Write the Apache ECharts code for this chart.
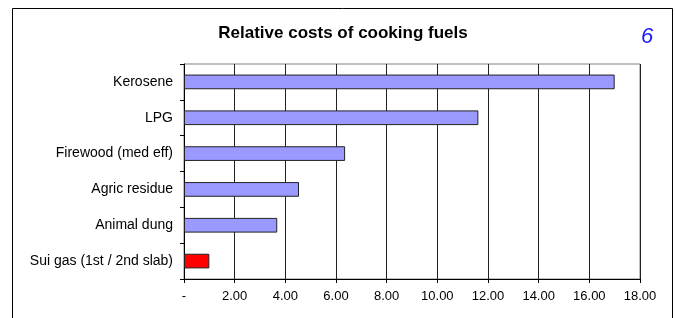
<!DOCTYPE html>
<html>
<head>
<meta charset="utf-8">
<script src="https://cdn.jsdelivr.net/npm/echarts@6/dist/echarts.min.js"></script>
<style>html,body{margin:0;padding:0;background:#fff}#c{width:675px;height:318px}</style>
</head>
<body>
<div id="c"></div>
<script>
const categories = ["Kerosene", "LPG", "Firewood (med eff)", "Agric residue", "Animal dung", "Sui gas (1st / 2nd slab)"];
const values = [17.0, 11.62, 6.36, 4.54, 3.68, 1.0];
const barColors = ["#9999ff", "#9999ff", "#9999ff", "#9999ff", "#9999ff", "#ff0000"];
const xTicks = [0, 2, 4, 6, 8, 10, 12, 14, 16, 18];

const chart = echarts.init(document.getElementById('c'), null, {renderer: 'canvas'});
const font = 'Liberation Sans, Arial, sans-serif';
chart.setOption({
  animation: false,
  backgroundColor: '#fff',
  graphic: [
    {type: 'rect', shape: {x: 12.5, y: 8.5, width: 660, height: 330}, style: {fill: 'none', stroke: '#000', lineWidth: 1}, z: 100},
    {type: 'text', x: 343, y: 33, style: {text: 'Relative costs of cooking fuels', font: 'bold 17px ' + font, fill: '#000', textAlign: 'center', textVerticalAlign: 'middle'}},
    {type: 'text', x: 647, y: 37, style: {text: '6', font: 'italic 22px ' + font, fill: '#1a1aff', textAlign: 'center', textVerticalAlign: 'middle'}}
  ],
  grid: {left: 184, right: 35, top: 64, bottom: 39, show: true, borderColor: '#808080', borderWidth: 1, containLabel: false},
  xAxis: {
    type: 'value', min: 0, max: 18, interval: 2,
    axisLine: {show: true, lineStyle: {color: '#000', width: 1}},
    axisTick: {show: true, length: 4, lineStyle: {color: '#000'}},
    splitLine: {show: true, lineStyle: {color: '#222', width: 1}},
    axisLabel: {color: '#000', fontFamily: font, fontSize: 13, margin: 11,
      formatter: function (v) { return v === 0 ? '-' : v.toFixed(2); },
      customValues: xTicks}
  },
  yAxis: {
    type: 'category', data: categories, inverse: true,
    axisLine: {show: true, lineStyle: {color: '#000', width: 1}},
    axisTick: {show: true, length: 4, lineStyle: {color: '#000'}},
    axisLabel: {color: '#000', fontFamily: font, fontSize: 14, margin: 11}
  },
  series: [{
    type: 'bar',
    data: values.map((v, i) => ({value: v, itemStyle: {color: barColors[i]}})),
    barWidth: '41%',
    itemStyle: {borderColor: '#222', borderWidth: 1}
  }]
});
</script>
</body>
</html>
